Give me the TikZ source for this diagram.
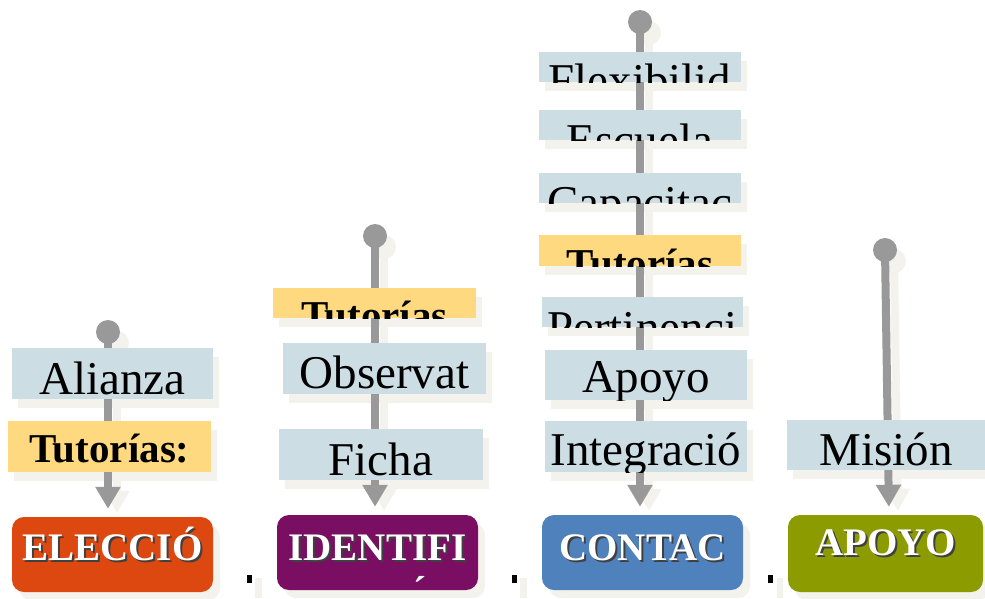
\documentclass[tikz,border=0pt]{standalone}
\usepackage{fontspec}
\setmainfont{Liberation Serif}
\usetikzlibrary{arrows.meta,calc}
\pgfdeclarelayer{bg}
\pgfdeclarelayer{shadow}
\pgfdeclarelayer{lines}
\pgfsetlayers{bg,shadow,lines,main}
\definecolor{lblue}{RGB}{205,221,228}
\definecolor{yel}{RGB}{255,217,128}
\definecolor{linec}{RGB}{153,153,153}
\definecolor{shadowc}{RGB}{243,242,236}
\definecolor{orng}{RGB}{220,72,16}
\definecolor{purp}{RGB}{122,14,98}
\definecolor{blu}{RGB}{79,129,189}
\definecolor{olv}{RGB}{140,155,0}
\newcommand\ltxt{\fontsize{47}{52}\selectfont}
\newcommand\btxt{\fontsize{41}{46}\selectfont\bfseries}
\newcommand\ctxt{\fontsize{39}{42}\selectfont\bfseries}
% light box: name, x1, y1, x2, y2, fill, baseline, font, text
\newcommand\lbox[9]{%
  \begin{pgfonlayer}{shadow}
    \fill[shadowc] ({#2+6},{#3+9}) rectangle ({#4+6},{#5+9});
  \end{pgfonlayer}
  \node[fill=#6, inner sep=0, minimum width={(#4-#2)*1pt}, minimum height={(#5-#3)*1pt}] (#1) at ({(#2+#4)/2},{(#3+#5)/2}) {};
  \begin{scope}
    \clip (#2,#3) rectangle (#4,#5);
    \node[anchor=base, inner sep=0, font=#8] at ({(#2+#4)/2},#7) {#9};
  \end{scope}}
% coloured box: name, x1, y1, x2, y2, fill, text, baseline
\newcommand\cbox[8]{%
  \begin{pgfonlayer}{shadow}
    \fill[shadowc, rounded corners=12pt] ({#2+7},{#3+8}) rectangle ({#4+7},{#5+8});
  \end{pgfonlayer}
  \node[fill=#6, rounded corners=12pt, inner sep=0, minimum width={(#4-#2)*1pt}, minimum height={(#5-#3)*1pt}] (#1) at ({(#2+#4)/2},{(#3+#5)/2}) {};
  \node[anchor=base, inner sep=0, font=\ctxt, text=black!75] at ({(#2+#4)/2+2},{#8+2}) {#7};
  \node[anchor=base, inner sep=0, font=\ctxt, text=white] at ({(#2+#4)/2},#8) {#7};}
\tikzset{
  conn/.style={line width=8pt, draw=linec, -{Triangle[width=24pt,length=22pt]}, shorten >=8pt},
  connsh/.style={line width=8pt, draw=shadowc, -{Triangle[width=24pt,length=22pt]}, shorten >=8pt},
  knob/.style={circle, fill=linec, minimum size=24pt, inner sep=0},
  knobsh/.style={circle, fill=shadowc, minimum size=24pt, inner sep=0},
  dotbox/.style={fill=black, inner sep=0, minimum width=5pt, minimum height=8pt},
}
\begin{document}
\begin{tikzpicture}[x=1pt,y=-1pt]
\useasboundingbox (0,0) rectangle (985,598);
\begin{pgfonlayer}{bg}
  \fill[white] (0,0) rectangle (985,598);
\end{pgfonlayer}

% column 1
\lbox{a1}{12}{348}{213}{399}{lblue}{394}{\ltxt}{Alianza}
\lbox{t1}{8}{421}{211}{472}{yel}{462}{\btxt}{Tutorías:}
\cbox{e1}{12}{517}{213}{592}{orng}{ELECCIÓ}{560}

% column 2
\lbox{t2}{273}{288}{476}{318}{yel}{329}{\btxt}{Tutorías}
\lbox{o2}{283}{343}{486}{394}{lblue}{388}{\ltxt}{Observat}
\lbox{f2}{279}{429}{483}{480}{lblue}{475}{\ltxt}{Ficha}
\cbox{e2}{277}{515}{478}{590}{purp}{IDENTIFI}{560}
\begin{scope}
  \clip (277,515) rectangle (478,590);
  \node[anchor=base, inner sep=0, font=\ctxt, text=white] (acc) at (420,603) {´};
\end{scope}

% column 3
\lbox{x1}{539}{52}{741}{82}{lblue}{96}{\ltxt}{Flexibilid}
\lbox{x2}{539}{110}{741}{140}{lblue}{156}{\ltxt}{Escuela}
\lbox{x3}{539}{173}{741}{203}{lblue}{218}{\ltxt}{Capacitac}
\lbox{x4}{539}{235}{741}{266}{yel}{277}{\btxt}{Tutorías}
\lbox{x5}{542}{297}{743}{327}{lblue}{343}{\ltxt}{Pertinenci}
\lbox{x6}{545}{350}{747}{400}{lblue}{392}{\ltxt}{Apoyo}
\lbox{x7}{545}{421}{747}{472}{lblue}{465}{\ltxt}{Integració}
\cbox{e3}{542}{515}{743}{590}{blu}{CONTAC}{560}

% column 4
\lbox{m4}{787}{420}{985}{470}{lblue}{465}{\ltxt}{Misión}
\cbox{e4}{788}{515}{983}{592}{olv}{APOYO}{555}

% knobs and connectors
\begin{pgfonlayer}{lines}
  \node[knob] (c1) at (108,332) {};
  \node[knob] (c2) at (375,236) {};
  \node[knob] (c3) at (640,22) {};
  \node[knob] (c4) at (885,250) {};
  \draw[conn] (c1.center) -- ([xshift=-4.5pt]e1.north);
  \draw[conn] (c2.center) -- ([xshift=-2.5pt]e2.north);
  \draw[conn] (c3.center) -- ([xshift=-2.5pt]e3.north);
  \draw[conn] (c4.center) -- ([xshift=3.5pt]e4.north);
\end{pgfonlayer}
\begin{pgfonlayer}{shadow}
  \foreach \c/\e/\s in {c1/e1/-4.5, c2/e2/-2.5, c3/e3/-2.5, c4/e4/3.5} {
    \node[knobsh] at ([shift={(9,11)}]\c.center) {};
    \draw[connsh] ([shift={(9,11)}]\c.center) -- ([shift={(\s+9,4)}]\e.north);
  }
  \fill[shadowc] (255,578) rectangle (262,598);
  \fill[shadowc] (520,578) rectangle (527,598);
  \fill[shadowc] (777,578) rectangle (783,598);
\end{pgfonlayer}

% separator dots
\node[dotbox] (d1) at (249.5,579) {};
\node[dotbox] (d2) at (514.5,579) {};
\node[dotbox] (d3) at (770.5,579) {};
\end{tikzpicture}
\end{document}
